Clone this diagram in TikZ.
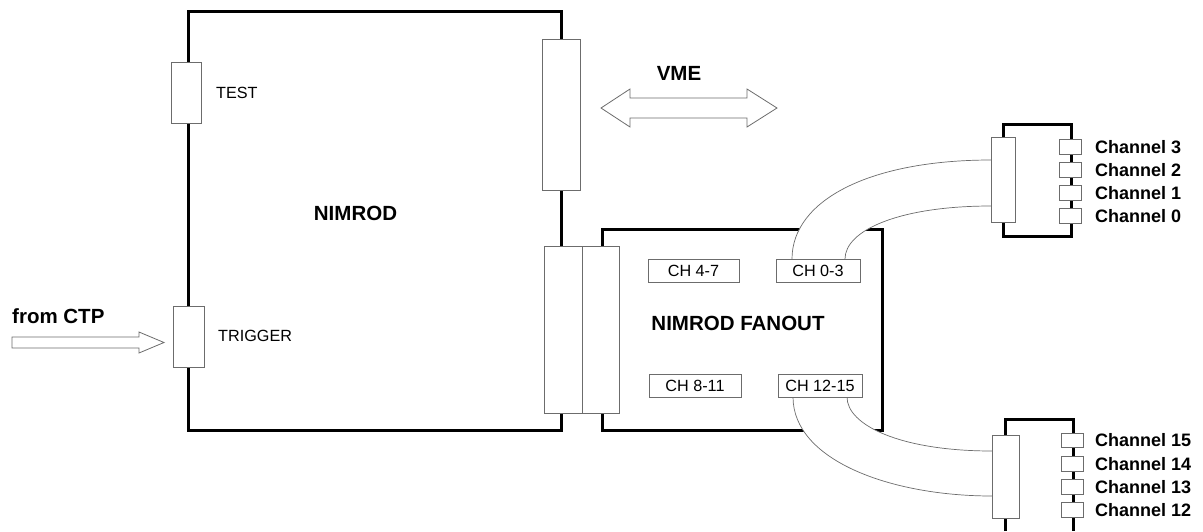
\documentclass[tikz,border=0pt]{standalone}
\usepackage{fontspec}
\setmainfont{Liberation Sans}
\begin{document}
\begin{tikzpicture}[x=1pt,y=-1pt,
  board/.style={line width=3pt, line join=miter},
  conn/.style={draw=gray!85!black, fill=white, line width=0.8pt, inner sep=0pt, outer sep=0pt},
  chbox/.style={draw=gray!85!black, fill=white, line width=0.8pt, inner sep=0pt, outer sep=0pt, minimum height=23pt},
  chan/.style={draw=gray!85!black, fill=white, line width=0.8pt, inner sep=0pt, outer sep=0pt, minimum width=22pt, minimum height=14.5pt},
  cable/.style={draw=gray!85!black, line width=0.7pt},
  bigarrow/.style={draw=gray!85!black, fill=white, line width=0.8pt, line join=miter},
  lbl/.style={inner sep=0pt, font=\fontsize{16.2}{18}\selectfont},
  blbl/.style={inner sep=0pt, font=\fontsize{20.5}{22}\selectfont\bfseries},
  chlbl/.style={inner sep=0pt, anchor=west, font=\fontsize{18}{20}\selectfont\bfseries}
]
\useasboundingbox (0,0) rectangle (1203,531);

% NIMROD board
\draw[board] (188,11) rectangle (561,430);
% NIMROD fanout board
\draw[board] (602,229) rectangle (882,430);

% top-right channel box
\draw[board] (1003,124) rectangle (1071,236);
% bottom-right channel box
\draw[board] (1005,531) -- (1005,419) -- (1073,419) -- (1073,531);

% cables (white fill hides board edges)
\fill[white] (792,259) .. controls (792,200) and (870,160) .. (991,160)
  -- (991,206) .. controls (900,206) and (845,230) .. (845,259) -- cycle;
\draw[cable] (792,259) .. controls (792,200) and (870,160) .. (991,160);
\draw[cable] (845,259) .. controls (845,230) and (900,206) .. (991,206);
\fill[white] (793,397) .. controls (793,460) and (890,496) .. (992,496)
  -- (992,451) .. controls (900,451) and (847,425) .. (847,397) -- cycle;
\draw[cable] (793,397) .. controls (793,460) and (890,496) .. (992,496);
\draw[cable] (847,397) .. controls (847,425) and (900,451) .. (992,451);

% connectors on NIMROD
\node[conn, minimum width=30pt, minimum height=61pt] (test) at (186,92.5) {};
\node[conn, minimum width=31pt, minimum height=61pt] (trig) at (188.5,336.5) {};
\node[conn, minimum width=38pt, minimum height=151pt] (vmec) at (561,114.5) {};
\node[conn, minimum width=38pt, minimum height=167pt] (fanl) at (563,329.5) {};
\node[conn, minimum width=37pt, minimum height=167pt] (fanr) at (600.5,329.5) {};

% connectors on channel boxes
\node[conn, minimum width=24pt, minimum height=85pt] (topc) at (1003,179.5) {};
\node[conn, minimum width=27pt, minimum height=83pt] (botc) at (1005.5,476.5) {};

% CH boxes
\node[chbox, minimum width=91pt] (ch47) at (693.5,270.5) {\fontsize{16.2}{18}\selectfont CH 4-7};
\node[chbox, minimum width=84pt] (ch03) at (818,270.5) {\fontsize{16.2}{18}\selectfont CH 0-3};
\node[chbox, minimum width=92pt] (ch811) at (695,385.5) {\fontsize{16.2}{18}\selectfont CH 8-11};
\node[chbox, minimum width=84pt] (ch1215) at (820,385.5) {\fontsize{16.2}{18}\selectfont CH 12-15};

% channel boxes top
\node[chan] (c3) at (1070,147) {};
\node[chan] (c2) at (1070,170) {};
\node[chan] (c1) at (1070,193) {};
\node[chan] (c0) at (1070,216) {};
\node[chlbl] (t3) at (1095,147) {Channel 3};
\node[chlbl] (t2) at (1095,170) {Channel 2};
\node[chlbl] (t1) at (1095,193) {Channel 1};
\node[chlbl] (t0) at (1095,216) {Channel 0};

% channel boxes bottom
\node[chan] (c15) at (1072,440.5) {};
\node[chan] (c14) at (1072,464) {};
\node[chan] (c13) at (1072,487) {};
\node[chan] (c12) at (1072,510) {};
\node[chlbl] (t15) at (1095,440.5) {Channel 15};
\node[chlbl] (t14) at (1095,464) {Channel 14};
\node[chlbl] (t13) at (1095,487) {Channel 13};
\node[chlbl] (t12) at (1095,510) {Channel 12};

% labels
\node[lbl, anchor=west] (testl) at (216,92.5) {TEST};
\node[lbl, anchor=west] (trigl) at (218,335.5) {TRIGGER};
\node[blbl] (nimrod) at (355.5,213) {NIMROD};
\node[blbl] (fanout) at (738,323) {NIMROD FANOUT};
\node[blbl] (vme) at (679,73) {VME};
\node[blbl, anchor=west] (ctp) at (12,316) {from CTP};

% VME double arrow
\draw[bigarrow] (601,108) -- (630,89) -- (630,98) -- (747,98) -- (747,89) -- (777,108)
  -- (747,127) -- (747,118) -- (630,118) -- (630,127) -- cycle;
% from CTP arrow
\draw[bigarrow] (12,337) -- (139,337) -- (139,332) -- (164,342.5) -- (139,353)
  -- (139,348) -- (12,348) -- cycle;
\end{tikzpicture}
\end{document}
